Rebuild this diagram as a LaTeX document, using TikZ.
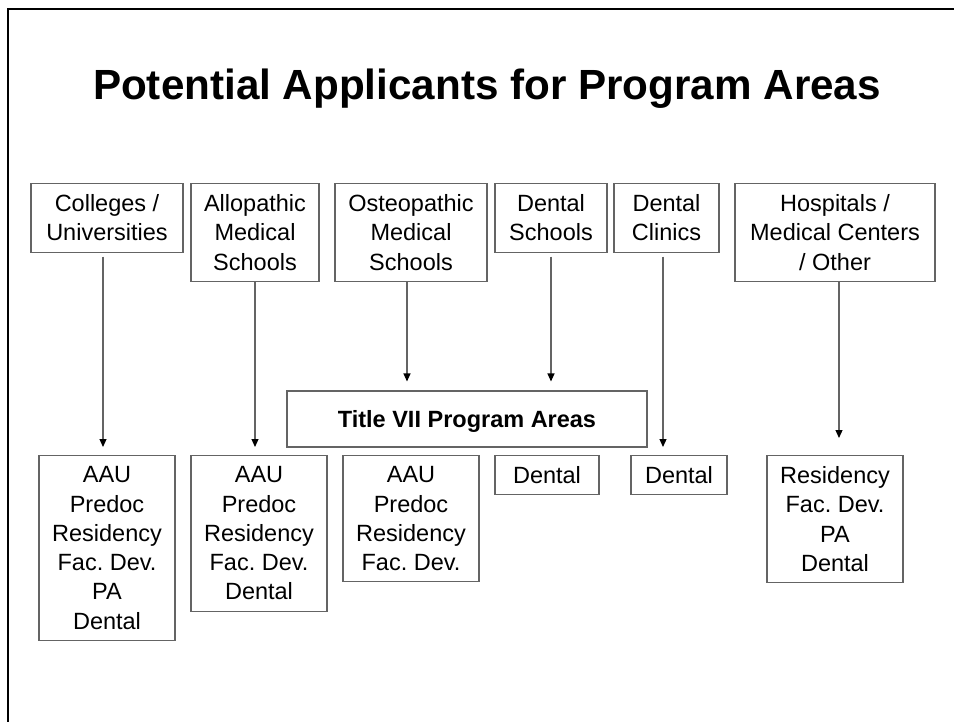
\documentclass[tikz,border=0pt]{standalone}
\usepackage{fontspec}
\setmainfont{Liberation Sans}
\usetikzlibrary{arrows.meta,calc}
\frenchspacing

\definecolor{boxgray}{RGB}{100,100,100}
\newcommand{\bodyfont}{\fontsize{23.5}{29.3}\selectfont}
\newcommand{\headfont}{\fontsize{42.2}{50}\selectfont\bfseries}

\begin{document}
\begin{tikzpicture}[x=1pt, y=1pt,
    box/.style={draw=boxgray, line width=1.1pt, align=center, font=\bodyfont,
      inner xsep=2pt, inner ysep=11pt, anchor=north},
    arr/.style={draw=boxgray, line width=1.2pt,
      -{Triangle[length=8pt, width=7pt, color=black]}}]
      \useasboundingbox (0,0) rectangle (954,-722);
      % Frame
      \draw[line width=2.4pt] (8,-722) -- (8,-9.3) -- (954,-9.3);

      % Title
      \node[font=\headfont, anchor=base] at (487, -100) (title) {Potential Applicants for Program Areas};

      % Nodes (applicants)
      \node[box, minimum width=152] at (107, -183) (cu) {Colleges /\\Universities};
      \node[box, minimum width=128] at (255, -183) (am) {Allopathic\\Medical\\Schools};
      \node[box, minimum width=152] at (411, -183) (om) {Osteopathic\\Medical\\Schools};
      \node[box, minimum width=112] at (551, -183) (ds) {Dental\\Schools};
      \node[box, minimum width=105] at (666.5, -183) (dc) {Dental\\Clinics};
      \node[box, minimum width=200] at (835, -183) (hm) {Hospitals /\\Medical Centers\\/ Other};

      \node[draw=boxgray, line width=1.1pt, font=\bodyfont\bfseries, minimum width=360,
        minimum height=56, text depth=0pt] at (467, -419) (t7) {Title VII Program Areas};

      % Nodes (program areas)
      \node[box, minimum width=136] at (107, -455) (b1) {AAU\\Predoc\\Residency\\Fac. Dev.\\PA\\Dental};
      \node[box, minimum width=136] at (259, -455) (b2) {AAU\\Predoc\\Residency\\Fac. Dev.\\Dental};
      \node[box, minimum width=136] at (411, -455) (b3) {AAU\\Predoc\\Residency\\Fac. Dev.};
      \node[box, minimum width=104] at (547, -455) (b4) {Dental};
      \node[box, minimum width=96] at (679, -455) (b5) {Dental};
      \node[box, minimum width=136] at (835, -455) (b6) {Residency\\Fac. Dev.\\PA\\Dental};

      % Arrows
      \draw[arr] ($(cu.south)+(-4,-4)$) -- ($(b1.north)+(-4,8)$);
      \draw[arr] (am.south) -- ($(am.south |- b2.north)+(0,8)$);
      \draw[arr] ($(om.south)+(-4,0)$) -- ($(om.south |- t7.north)+(-4,9)$);
      \draw[arr] ($(ds.south)+(0,-4)$) -- ($(ds.south |- t7.north)+(0,9)$);
      \draw[arr] ($(dc.south)+(-3.5,-4)$) -- ($(dc.south |- b5.north)+(-3.5,8)$);
      \draw[arr] ($(hm.south)+(4,0)$) -- ($(hm.south |- b6.north)+(4,17)$);
\end{tikzpicture}
\end{document}
